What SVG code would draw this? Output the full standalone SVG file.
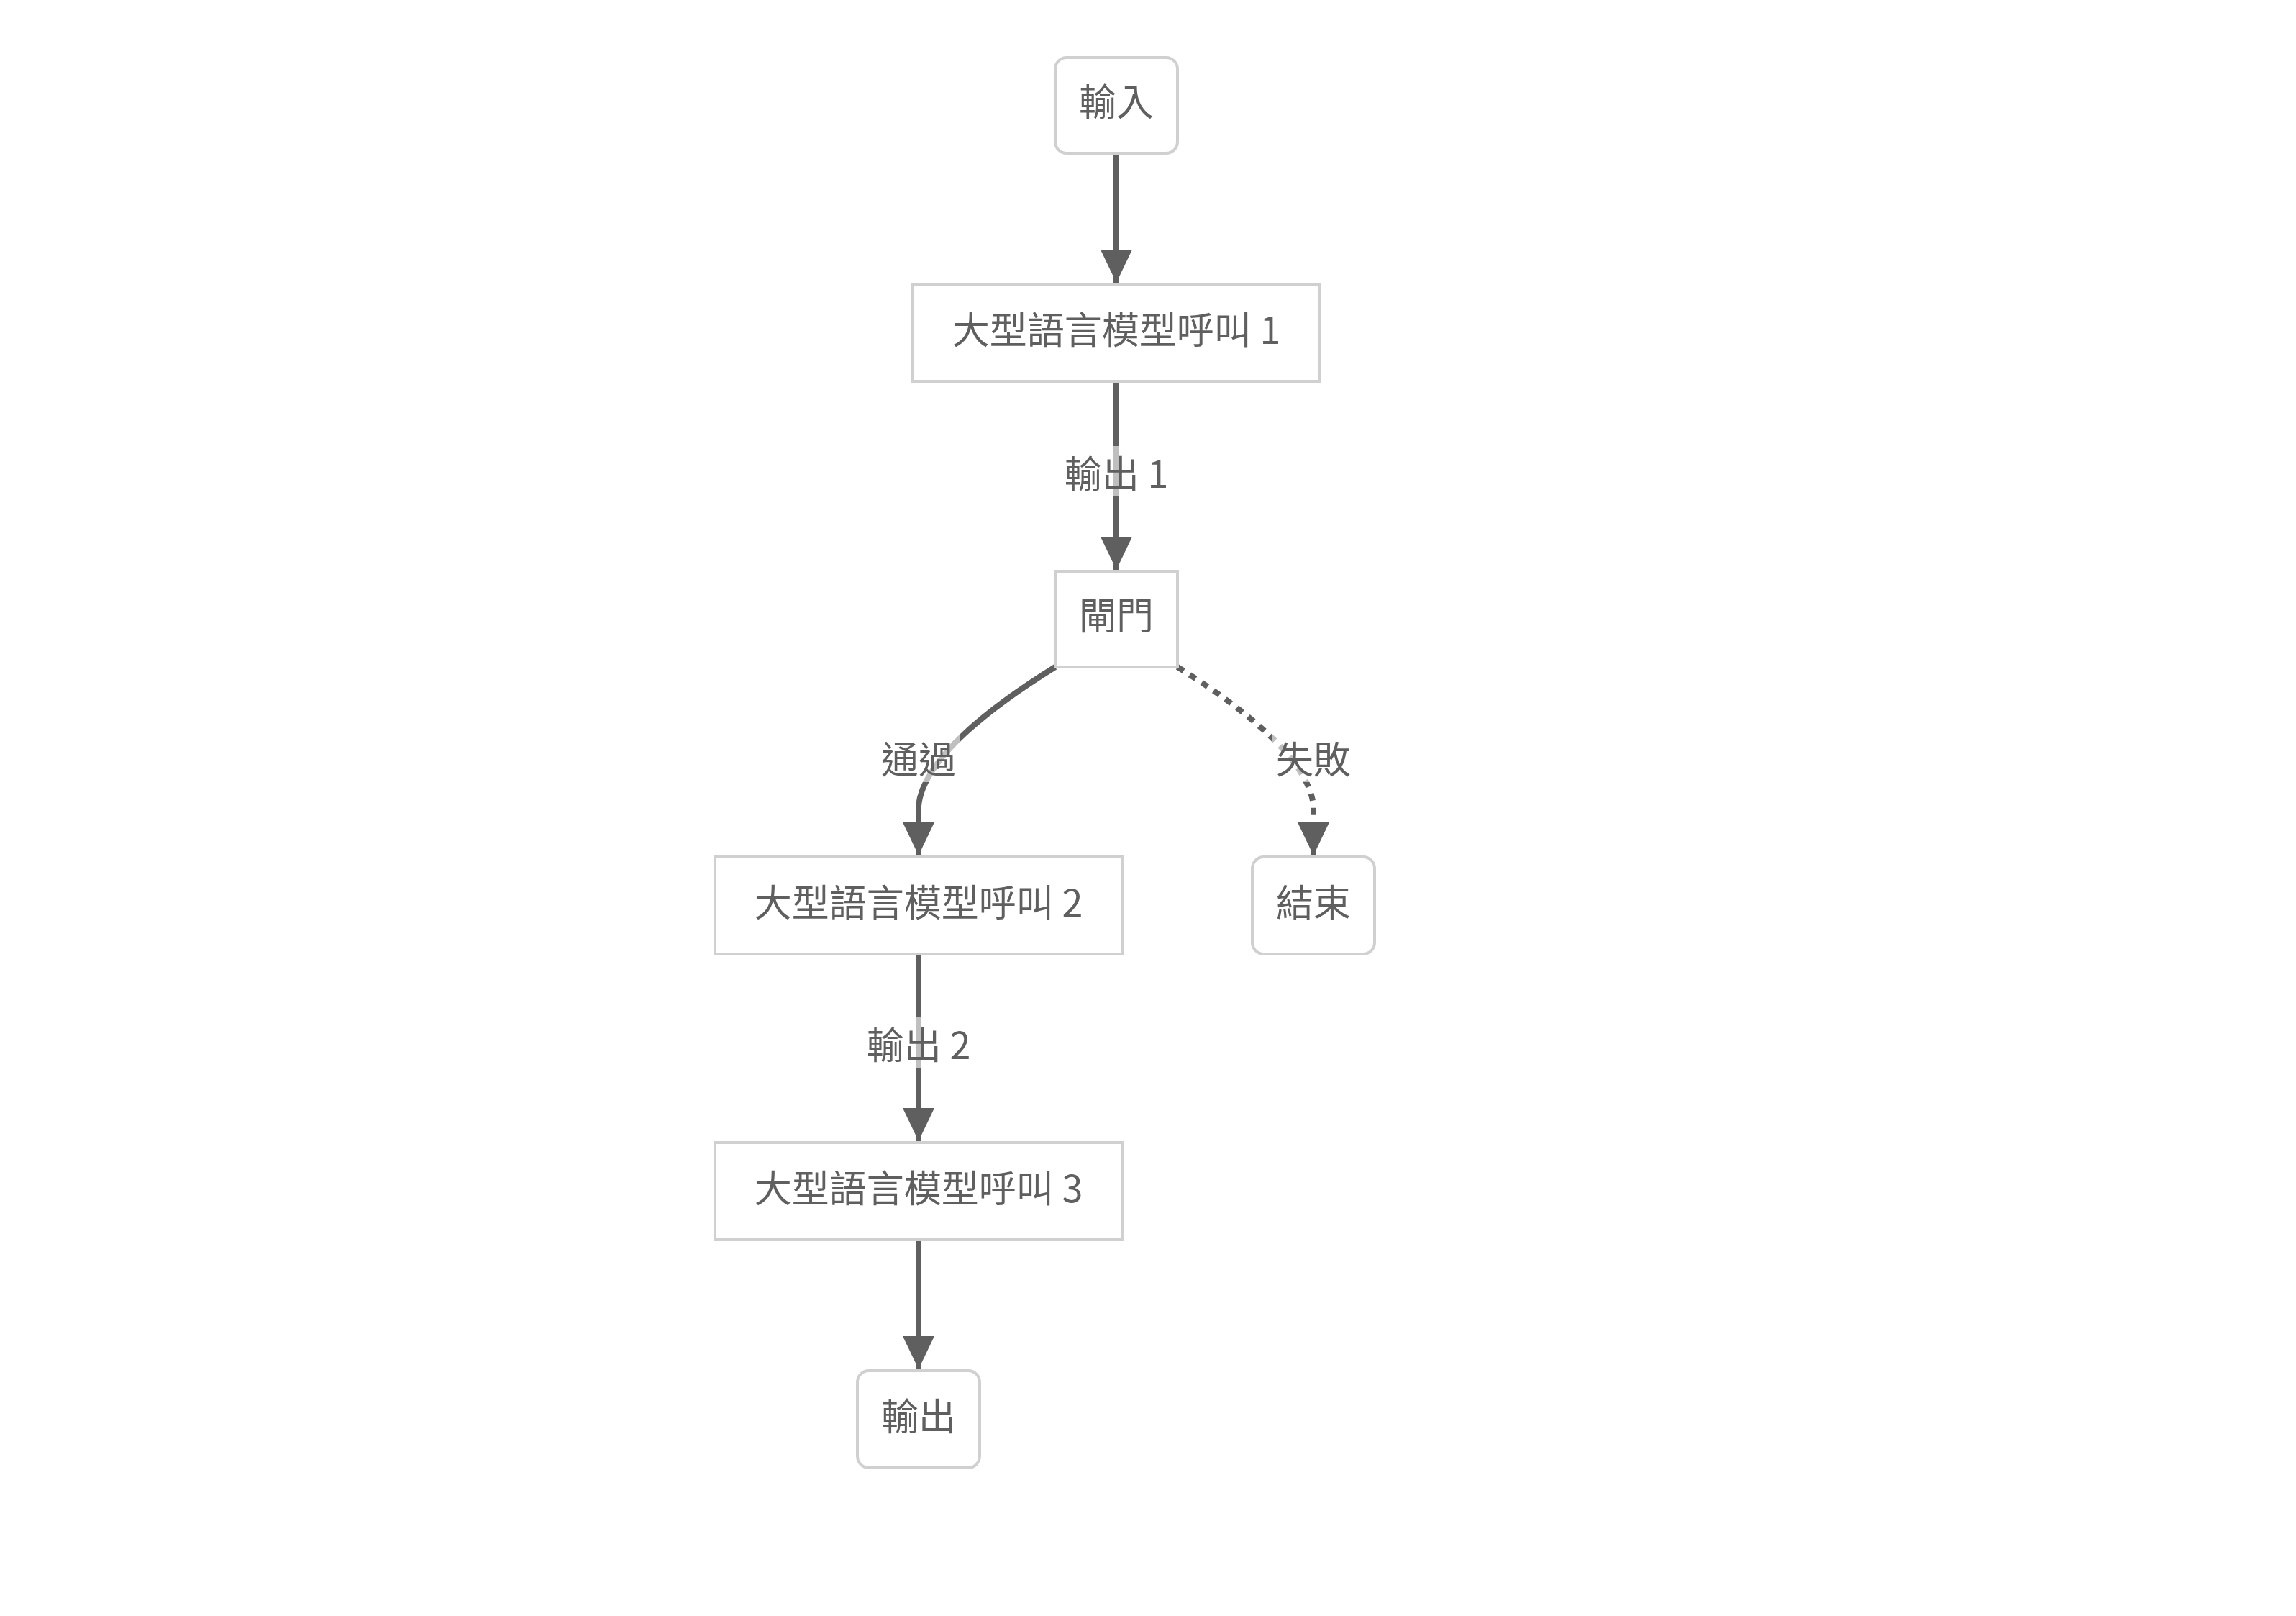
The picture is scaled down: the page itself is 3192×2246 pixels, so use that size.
<svg xmlns="http://www.w3.org/2000/svg" width="3192" height="2246" viewBox="0 0 3192 2246">
<style>
.box{fill:#fff;stroke:#d0d0d0;stroke-width:4}
.t{font-family:"Noto Sans CJK TC","Noto Sans CJK SC",sans-serif;font-size:52px;fill:#5f5f5f;text-anchor:middle;dominant-baseline:central}
.e{fill:none;stroke:#5f5f5f;stroke-width:8}
.d{stroke-dasharray:10 10}
.lb{fill:#fff;fill-opacity:0.6}
</style>
<defs>
<marker id="ah" markerUnits="userSpaceOnUse" markerWidth="48" markerHeight="48" viewBox="0 0 48 48" refX="46" refY="24" orient="auto">
<path d="M0,2 L46,24 L0,46 z" fill="#5f5f5f"/>
</marker>
</defs>
<rect width="3192" height="2246" fill="#fff"/>
<g id="edges">
<path class="e" d="M1552,215 L1552,393" marker-end="url(#ah)"/>
<path class="e" d="M1552,532 L1552,792" marker-end="url(#ah)"/>
<path class="e" d="M1467,927 Q1285,1040 1277,1120 L1277,1189" marker-end="url(#ah)"/>
<path class="e d" d="M1637,927 Q1818,1040 1826,1120 L1826,1189" marker-end="url(#ah)"/>
<path class="e" d="M1277,1328 L1277,1586" marker-end="url(#ah)"/>
<path class="e" d="M1277,1725 L1277,1903" marker-end="url(#ah)"/>
<rect class="lb" x="1470" y="620" width="164" height="70"/>
<text class="t" x="1552" y="655">輸出 1</text>
<rect class="lb" x="1220" y="1017" width="114" height="70"/>
<text class="t" x="1277" y="1052">通過</text>
<rect class="lb" x="1769" y="1017" width="114" height="70"/>
<text class="t" x="1826" y="1052">失敗</text>
<rect class="lb" x="1195" y="1414" width="164" height="70"/>
<text class="t" x="1277" y="1449">輸出 2</text>
</g>
<g id="input"><rect class="box" x="1467" y="80" width="170" height="133" rx="16"/><text class="t" x="1552" y="138">輸入</text></g>
<g id="llm1"><rect class="box" x="1269" y="395" width="566" height="135"/><text class="t" x="1552" y="455">大型語言模型呼叫 1</text></g>
<g id="gate"><rect class="box" x="1467" y="794" width="170" height="133"/><text class="t" x="1552" y="852">閘門</text></g>
<g id="llm2"><rect class="box" x="994" y="1191" width="567" height="135"/><text class="t" x="1277" y="1251">大型語言模型呼叫 2</text></g>
<g id="end"><rect class="box" x="1741" y="1191" width="170" height="135" rx="16"/><text class="t" x="1826" y="1251">結束</text></g>
<g id="llm3"><rect class="box" x="994" y="1588" width="567" height="135"/><text class="t" x="1277" y="1648">大型語言模型呼叫 3</text></g>
<g id="output"><rect class="box" x="1192" y="1905" width="170" height="135" rx="16"/><text class="t" x="1277" y="1965">輸出</text></g>
</svg>
